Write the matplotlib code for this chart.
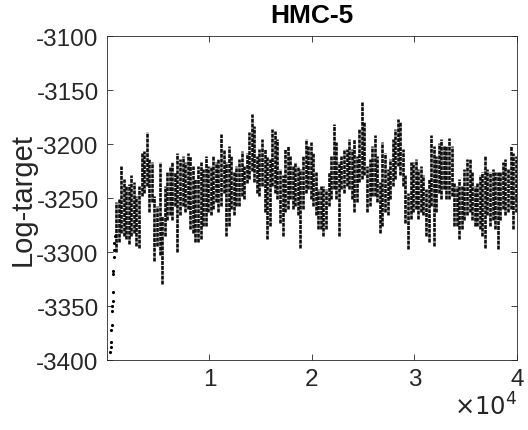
import matplotlib
matplotlib.use("Agg")
import matplotlib.pyplot as plt
import numpy as np

plt.rcParams['font.family'] = ['Liberation Sans', 'DejaVu Sans']

# burn-in samples (iteration, log-target)
burn_iter = [330, 360, 390, 420, 450, 480, 510, 540, 570, 600, 630, 660, 690, 720, 750]
burn_vals = [-3393, -3388, -3383, -3372, -3368, -3355, -3350, -3345, -3337,
             -3320, -3318, -3305, -3298, -3292, -3285]

# 250-iteration blocks from 750 on: top and bottom of the sample cloud
block_start = list(range(750, 40000, 250))
block_top = [
    -3254, -3251, -3220, -3232, -3239, -3237, -3229, -3235, -3248, -3239,
    -3208, -3206, -3189, -3214, -3217, -3248, -3257, -3217, -3267, -3239,
    -3226, -3220, -3217, -3226, -3208, -3214, -3211, -3217, -3208, -3211,
    -3220, -3232, -3220, -3217, -3223, -3211, -3220, -3220, -3211, -3217,
    -3214, -3191, -3205, -3217, -3202, -3211, -3226, -3220, -3214, -3206,
    -3220, -3208, -3189, -3172, -3183, -3211, -3205, -3195, -3205, -3211,
    -3214, -3186,
    -3188, -3195, -3223, -3229, -3205, -3202, -3211, -3220, -3217, -3220,
    -3223, -3211, -3195, -3202, -3198, -3208, -3226, -3242, -3239, -3239,
    -3242, -3226, -3211, -3181, -3198, -3217, -3211, -3205, -3205, -3195,
    -3205, -3195,
    -3211, -3186, -3161, -3180, -3220, -3214, -3202, -3192, -3211, -3235,
    -3198, -3208, -3223, -3214, -3195, -3186, -3177, -3180, -3205, -3229,
    -3245, -3217, -3217, -3214, -3223, -3220, -3229, -3242, -3232, -3192,
    -3202, -3211,
    -3199, -3195, -3202, -3202, -3194, -3202, -3236, -3239, -3232, -3239,
    -3223, -3214, -3214, -3226, -3239, -3236, -3229, -3226, -3211, -3223,
    -3226, -3223, -3226, -3226, -3226, -3217, -3214, -3223, -3202, -3208,
    -3211]
block_bottom = [
    -3300, -3291, -3282, -3285, -3288, -3293, -3285, -3282, -3294, -3296,
    -3248, -3245, -3239, -3263, -3254, -3308, -3294, -3303, -3330, -3285,
    -3270, -3266, -3270, -3257, -3300, -3266, -3257, -3263, -3260, -3279,
    -3282, -3291, -3291, -3288, -3276, -3276, -3263, -3266, -3260, -3254,
    -3263, -3257, -3245, -3285, -3276, -3260, -3266, -3257, -3257, -3248,
    -3251, -3236, -3232, -3225, -3235, -3245, -3248, -3239, -3263, -3288,
    -3276, -3239,
    -3245, -3251, -3273, -3285, -3263, -3260, -3251, -3260, -3257, -3266,
    -3296, -3260, -3245, -3242, -3251, -3257, -3266, -3279, -3279, -3285,
    -3279, -3257, -3251, -3242, -3251, -3285, -3242, -3245, -3239, -3242,
    -3251, -3263,
    -3254, -3235, -3232, -3229, -3263, -3257, -3248, -3248, -3254, -3282,
    -3276, -3263, -3266, -3251, -3239, -3232, -3220, -3229, -3239, -3273,
    -3297, -3269, -3263, -3260, -3269, -3263, -3266, -3285, -3291, -3257,
    -3294, -3263,
    -3245, -3251, -3242, -3251, -3251, -3248, -3276, -3276, -3288, -3279,
    -3270, -3266, -3263, -3270, -3276, -3276, -3279, -3285, -3296, -3266,
    -3276, -3270, -3279, -3297, -3270, -3260, -3266, -3263, -3260, -3279,
    -3263]

block_mid = [s + 125 for s in block_start]

fig = plt.figure(figsize=(5.28, 4.31), dpi=100)
ax = fig.add_axes([0.2027, 0.1624, 0.7763, 0.7516])

# dashed strokes give the speckled look of the dense point cloud
ax.vlines(block_mid, block_bottom, block_top, colors='#0d0d0d', linewidth=1.9,
          linestyles=[(0, (1.5, 0.35))])
ax.plot(burn_iter, burn_vals, '.', color='k', markersize=2.5)

ax.set_xlim(0, 40000)
ax.set_ylim(-3400, -3100)
ax.set_yticks(np.arange(-3400, -3099, 50))
ax.set_yticklabels([str(v) for v in range(-3400, -3099, 50)])
ax.set_xticks([10000, 20000, 30000, 40000])
ax.set_xticklabels(['1', '2', '3', '4'])
ax.tick_params(direction='in', top=True, right=True, length=4, width=0.6,
               labelsize=17.5, colors='#262626', pad=6)
for s in ax.spines.values():
    s.set_color('#262626')
    s.set_linewidth(0.6)

ax.set_ylabel('Log-target', fontsize=21, color='#262626', labelpad=0)
ax.set_title('HMC-5', fontsize=19, fontweight='bold', pad=10)
ax.text(1.0, -0.1, r'$\times10^4$', transform=ax.transAxes, ha='right', va='top',
        fontsize=17.5, color='#262626')

fig.savefig('out.png', dpi=100)
